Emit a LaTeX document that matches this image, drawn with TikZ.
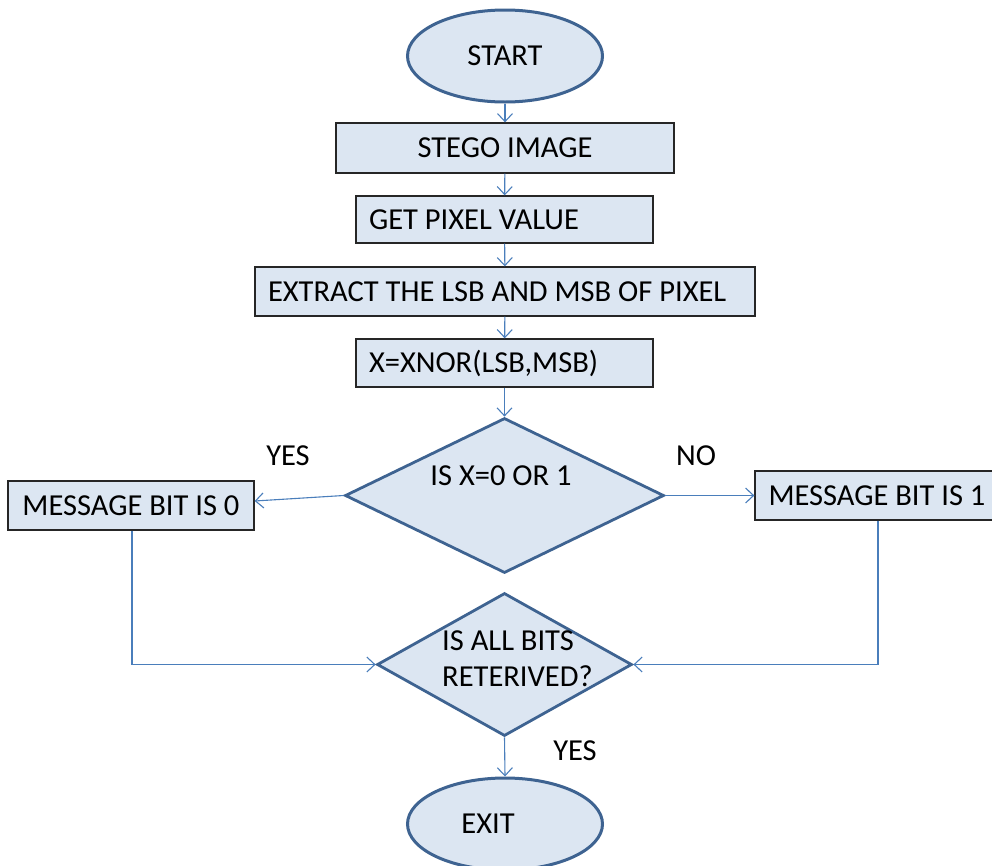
\documentclass[tikz,border=0pt]{standalone}
\usepackage{fontspec}
\setmainfont{Carlito}
\usetikzlibrary{shapes.geometric,arrows.meta}
\definecolor{boxfill}{HTML}{DCE6F2}
\definecolor{shapeline}{HTML}{3E6391}
\definecolor{flowline}{HTML}{4A7EBB}
\tikzset{
  every node/.style={font=\fontsize{30.5}{36}\selectfont},
  terminal/.style={ellipse, draw=shapeline, line width=3pt, fill=boxfill,
    minimum width=195pt, minimum height=92pt, inner sep=0pt},
  procbox/.style={rectangle, draw=black!85, line width=1.3pt, fill=boxfill,
    inner xsep=13pt, inner ysep=0pt},
  decision/.style={diamond, draw=shapeline, line width=2.8pt, fill=boxfill,
    inner sep=0pt},
  flow/.style={draw=flowline, line width=1.1pt,
    -{Straight Barb[length=8pt,width=15pt,line width=1.1pt]}},
  tag/.style={inner sep=0pt}
}
\begin{document}
\begin{tikzpicture}[x=1pt,y=-1pt]
\useasboundingbox (0,0) rectangle (992,865);

% terminals
\node[terminal] (start) at (505,56) {START};
\node[terminal] (exit) at (505,824) {};
\node[tag] (exittxt) at (488,824) {EXIT};

% process boxes
\node[procbox, minimum width=338pt, minimum height=50pt] (stego) at (505,148) {STEGO IMAGE};
\node[procbox, minimum height=47pt, text width=271pt, align=flush left] (pixel) at (504.5,219.5) {GET PIXEL VALUE};
\node[procbox, minimum height=49pt, text width=474pt, align=flush left] (extract) at (505,291.5) {EXTRACT THE LSB AND MSB OF PIXEL};
\node[procbox, minimum height=48pt, text width=271pt, align=flush left] (xnor) at (504.5,363) {X=XNOR(LSB,MSB)};

% first decision
\node[decision, minimum width=319pt, minimum height=155pt] (dec1) at (504.5,495.5) {};
\node[tag] (dec1txt) at (501,476) {IS X=0 OR 1};

\node[procbox, minimum width=246pt, minimum height=49pt] (bit0) at (131,505.5) {MESSAGE BIT IS 0};
\node[procbox, minimum width=244pt, minimum height=49pt] (bit1) at (877,495.5) {MESSAGE BIT IS 1};

% second decision
\node[decision, minimum width=255pt, minimum height=143pt] (dec2) at (504.5,664.5) {};
\node[tag, anchor=west, align=flush left] (dec2txt) at (442,659) {IS ALL BITS\\RETERIVED?};

% branch labels
\node[tag] (yes1) at (288,456) {YES};
\node[tag] (no1) at (696,456) {NO};
\node[tag] (yes2) at (575,751) {YES};

% connectors
\draw[flow] (start) -- (stego);
\draw[flow] (stego) -- (pixel);
\draw[flow] (pixel) -- (extract);
\draw[flow] (extract) -- (xnor);
\draw[flow] (xnor) -- (dec1);
\draw[flow] (dec1.west) -- ([yshift=4.5pt]bit0.east);
\draw[flow] (dec1.east) -- (bit1.west);
\draw[flow] ([xshift=1pt]bit0.south) |- (dec2.west);
\draw[flow] (bit1.south -| 878,0) |- (dec2.east);
\draw[flow] (dec2.south) -- (exit.north);
\end{tikzpicture}
\end{document}
